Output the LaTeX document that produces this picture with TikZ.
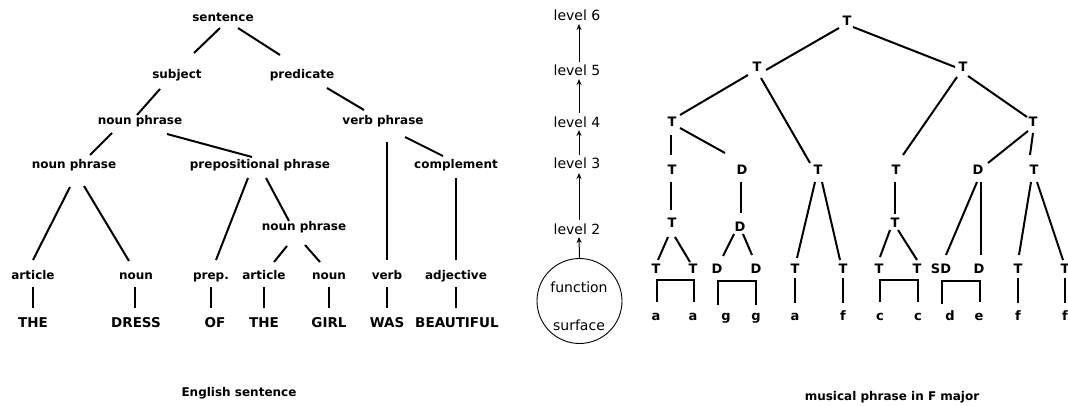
\documentclass[tikz,border=0pt]{standalone}
\usepackage{fontspec}
\setmainfont{DejaVu Sans}
\usetikzlibrary{arrows.meta,shapes.geometric}
\begin{document}
\begin{tikzpicture}[x=1pt,y=-1pt,
  lbl/.style={font=\bfseries\fontsize{12}{14}\selectfont, inner sep=0pt, text height=9pt, text depth=3pt},
  word/.style={font=\bfseries\fontsize{13.5}{16}\selectfont, inner sep=0pt, text height=10pt, text depth=0pt},
  sym/.style={font=\bfseries\fontsize{13}{15}\selectfont, inner sep=0pt, text height=9.5pt, text depth=0pt},
  nt/.style={font=\bfseries\fontsize{13}{15}\selectfont, inner sep=0pt, text height=7pt, text depth=0pt},
  lvl/.style={font=\fontsize{14}{16}\selectfont, inner sep=0pt, text height=10pt, text depth=0pt},
  ln/.style={line width=2pt},
  up/.style={line width=1pt, -{Stealth[length=6pt,width=5pt]}},
]
\fill[white] (0,0) rectangle (1068,406);
\useasboundingbox (0,0) rectangle (1068,406);

% ---------------- English sentence tree ----------------
\node[lbl] (sent) at (223,19) {sentence};
\node[lbl] (subj) at (177,76) {subject};
\node[lbl] (pred) at (302,76) {predicate};
\node[lbl] (npa) at (140,122) {noun phrase};
\node[lbl] (vp) at (383,122) {verb phrase};
\node[lbl] (npb) at (74,166) {noun phrase};
\node[lbl] (pp) at (260,166) {prepositional phrase};
\node[lbl] (comp) at (456,166) {complement};
\node[lbl] (npc) at (304,227) {noun phrase};
\node[lbl] (arta) at (33,276) {article};
\node[lbl] (nouna) at (136,276) {noun};
\node[lbl] (prep) at (211,276) {prep.};
\node[lbl] (artb) at (264,276) {article};
\node[lbl] (nounb) at (329,276) {noun};
\node[lbl] (verb) at (387,276) {verb};
\node[lbl] (adj) at (456,276) {adjective};
\node[word] (wa) at (33,322) {THE};
\node[word] (wb) at (136,322) {DRESS};
\node[word] (wc) at (215,322) {OF};
\node[word] (wd) at (264,322) {THE};
\node[word] (we) at (329,322) {GIRL};
\node[word] (wf) at (387,322) {WAS};
\node[word] (wg) at (457,322) {BEAUTIFUL};

\draw[ln] ([shift={(-3,9)}]sent.center) -- ([shift={(17,-23)}]subj.center);
\draw[ln] ([shift={(15,9)}]sent.center) -- ([shift={(-22,-21)}]pred.center);
\draw[ln] ([shift={(-17,13)}]subj.center) -- ([shift={(-3,-7)}]npa.center);
\draw[ln] ([shift={(25,12)}]pred.center) -- ([shift={(-19,-12)}]vp.center);
\draw[ln] ([shift={(-28,11)}]npa.center) -- ([shift={(16,-11)}]npb.center);
\draw[ln] ([shift={(27,12)}]npa.center) -- ([shift={(-8,-9)}]pp.center);
\draw[ln] ([shift={(4,20)}]vp.center) -- ([shift={(0,-16)}]verb.center);
\draw[ln] ([shift={(22,15)}]vp.center) -- ([shift={(-13,-10)}]comp.center);
\draw[ln] ([shift={(0,12)}]comp.center) -- ([shift={(0,-16)}]adj.center);
\draw[ln] ([shift={(-4,21)}]npb.center) -- ([shift={(0,-16)}]arta.center);
\draw[ln] ([shift={(10,20)}]npb.center) -- ([shift={(-7,-15)}]nouna.center);
\draw[ln] ([shift={(-12,12)}]pp.center) -- ([shift={(5,-16)}]prep.center);
\draw[ln] ([shift={(6,12)}]pp.center) -- ([shift={(-15,-6)}]npc.center);
\draw[ln] ([shift={(-17,19)}]npc.center) -- ([shift={(10,-14)}]artb.center);
\draw[ln] ([shift={(1,18)}]npc.center) -- ([shift={(-9,-14)}]nounb.center);

\draw[ln] ([shift={(0,11)}]arta.center) -- ([shift={(0,-14)}]wa.center);
\draw[ln] ([shift={(-1,11)}]nouna.center) -- ([shift={(-1,-14)}]wb.center);
\draw[ln] ([shift={(0,11)}]prep.center) -- ([shift={(-4,-14)}]wc.center);
\draw[ln] ([shift={(0,11)}]artb.center) -- ([shift={(0,-14)}]wd.center);
\draw[ln] ([shift={(0,11)}]nounb.center) -- ([shift={(0,-14)}]we.center);
\draw[ln] ([shift={(0,11)}]verb.center) -- ([shift={(0,-14)}]wf.center);
\draw[ln] ([shift={(0,11)}]adj.center) -- ([shift={(-1,-14)}]wg.center);

\node[lbl] (capa) at (239,393) {English sentence};

% ---------------- levels ----------------
\node[lvl] (lvsix) at (577,16) {level 6};
\node[lvl] (lvfive) at (577,71) {level 5};
\node[lvl] (lvfour) at (577,123) {level 4};
\node[lvl] (lvthree) at (577,164) {level 3};
\node[lvl] (lvtwo) at (577,229) {level 2};
\node[draw, line width=0.9pt, ellipse, minimum width=85pt, minimum height=85pt, inner sep=0pt] (fs) at (579.5,301) {};
\node[lvl] (fun) at (579,287) {function};
\node[lvl] (surf) at (579,325) {surface};

\draw[up] ([shift={(2,-9)}]lvfive.center) -- ([shift={(2,8)}]lvsix.center);
\draw[up] ([shift={(2,-10)}]lvfour.center) -- ([shift={(2,8)}]lvfive.center);
\draw[up] ([shift={(2,-9)}]lvthree.center) -- ([shift={(2,7)}]lvfour.center);
\draw[up] ([shift={(2,-9)}]lvtwo.center) -- ([shift={(2,9)}]lvthree.center);
\draw[up] (fs.north) -- ([shift={(2,8)}]lvtwo.center);

% ---------------- musical tree ----------------
\node[sym] (r0) at (847,21) {T};
\node[sym] (r1a) at (757,67) {T};
\node[sym] (r1b) at (963,67) {T};
\node[sym] (r2a) at (672,122) {T};
\node[sym] (r2b) at (1033,122) {T};
\node[sym] (r3a) at (672,170) {T};
\node[sym] (r3b) at (742,170) {D};
\node[sym] (r3c) at (818,170) {T};
\node[sym] (r3d) at (896,170) {T};
\node[sym] (r3e) at (978,170) {D};
\node[sym] (r3f) at (1034,170) {T};
\node[sym] (r4a) at (672,223) {T};
\node[sym] (r4b) at (740,227) {D};
\node[sym] (r4c) at (895,223) {T};
\node[sym] (t5a) at (656,269) {T};
\node[sym] (t5b) at (693,269) {T};
\node[sym] (t5c) at (717,269) {D};
\node[sym] (t5d) at (756,269) {D};
\node[sym] (t5e) at (795,269) {T};
\node[sym] (t5f) at (843,269) {T};
\node[sym] (t5g) at (879,269) {T};
\node[sym] (t5h) at (917,269) {T};
\node[sym] (t5i) at (941,269) {SD};
\node[sym] (t5j) at (979,269) {D};
\node[sym] (t5k) at (1018,269) {T};
\node[sym] (t5l) at (1065,269) {T};
\node[nt] (na) at (656,317) {a};
\node[nt] (nb) at (693,317) {a};
\node[nt] (nc) at (726,317) {g};
\node[nt] (nd) at (756,317) {g};
\node[nt] (ne) at (795,317) {a};
\node[nt] (nf) at (843,317) {f};
\node[nt] (ng) at (880,317) {c};
\node[nt] (nh) at (918,317) {c};
\node[nt] (ni) at (950,317) {d};
\node[nt] (nj) at (979,317) {e};
\node[nt] (nk) at (1018,317) {f};
\node[nt] (nl) at (1065,317) {f};

\draw[ln] ([shift={(-8,7)}]r0.center) -- ([shift={(9,3)}]r1a.center);
\draw[ln] ([shift={(6,6)}]r0.center) -- ([shift={(-8,0)}]r1b.center);
\draw[ln] ([shift={(-9,8)}]r1a.center) -- ([shift={(8,-7)}]r2a.center);
\draw[ln] ([shift={(4,11)}]r1a.center) -- ([shift={(-8,-7)}]r3c.center);
\draw[ln] ([shift={(-6,10)}]r1b.center) -- ([shift={(7,-15)}]r3d.center);
\draw[ln] ([shift={(5,9)}]r1b.center) -- ([shift={(-6,-5)}]r2b.center);
\draw[ln] ([shift={(-1,13)}]r2a.center) -- ([shift={(-1,-15)}]r3a.center);
\draw[ln] ([shift={(8,6)}]r2a.center) -- ([shift={(-17,-17)}]r3b.center);
\draw[ln] ([shift={(-5,9)}]r2b.center) -- ([shift={(10,-7)}]r3e.center);
\draw[ln] ([shift={(0,11)}]r2b.center) -- ([shift={(-4,-15)}]r3f.center);
\draw[ln] ([shift={(-1,12)}]r3a.center) -- ([shift={(-1,-13)}]r4a.center);
\draw[ln] ([shift={(-1,12)}]r3b.center) -- ([shift={(1,-14)}]r4b.center);
\draw[ln] ([shift={(-3,12)}]r3c.center) -- ([shift={(2,-11)}]t5e.center);
\draw[ln] ([shift={(4,12)}]r3c.center) -- ([shift={(-3,-9)}]t5f.center);
\draw[ln] ([shift={(-1,12)}]r3d.center) -- ([shift={(0,-9)}]r4c.center);
\draw[ln] ([shift={(-1,12)}]r3e.center) -- ([shift={(5,-14)}]t5i.center);
\draw[ln] ([shift={(3,12)}]r3e.center) -- ([shift={(2,-14)}]t5j.center);
\draw[ln] ([shift={(-3,12)}]r3f.center) -- ([shift={(1,-14)}]t5k.center);
\draw[ln] ([shift={(3,12)}]r3f.center) -- ([shift={(-2,-9)}]t5l.center);
\draw[ln] ([shift={(-4,14)}]r4a.center) -- ([shift={(2,-9)}]t5a.center);
\draw[ln] ([shift={(3,14)}]r4a.center) -- ([shift={(-3,-7)}]t5b.center);
\draw[ln] ([shift={(-6,7)}]r4b.center) -- ([shift={(6,-13)}]t5c.center);
\draw[ln] ([shift={(3,7)}]r4b.center) -- ([shift={(-4,-14)}]t5d.center);
\draw[ln] ([shift={(-5,7)}]r4c.center) -- ([shift={(1,-12)}]t5g.center);
\draw[ln] ([shift={(3,7)}]r4c.center) -- ([shift={(0,-9)}]t5h.center);

% brackets joining pairs of notes
\draw[ln] ([shift={(1,33)}]t5a.center) |- ([shift={(1,11)}]t5b.center) -- ([shift={(1,33)}]t5b.center);
\draw[ln] ([shift={(1,36)}]t5c.center) |- ([shift={(0,12)}]t5d.center) -- ([shift={(0,36)}]t5d.center);
\draw[ln] ([shift={(1,33)}]t5g.center) |- ([shift={(1,11)}]t5h.center) -- ([shift={(1,33)}]t5h.center);
\draw[ln] ([shift={(1,35)}]t5i.center) |- ([shift={(1,12)}]t5j.center) -- ([shift={(1,33)}]t5j.center);
% single stems
\draw[ln] ([shift={(0,9)}]t5e.center) -- ([shift={(0,-14)}]ne.center);
\draw[ln] ([shift={(0,9)}]t5f.center) -- ([shift={(0,-14)}]nf.center);
\draw[ln] ([shift={(0,9)}]t5k.center) -- ([shift={(0,-14)}]nk.center);
\draw[ln] ([shift={(0,9)}]t5l.center) -- ([shift={(0,-14)}]nl.center);

\node[lbl] (capb) at (892,397) {musical phrase in F major};
\end{tikzpicture}
\end{document}
